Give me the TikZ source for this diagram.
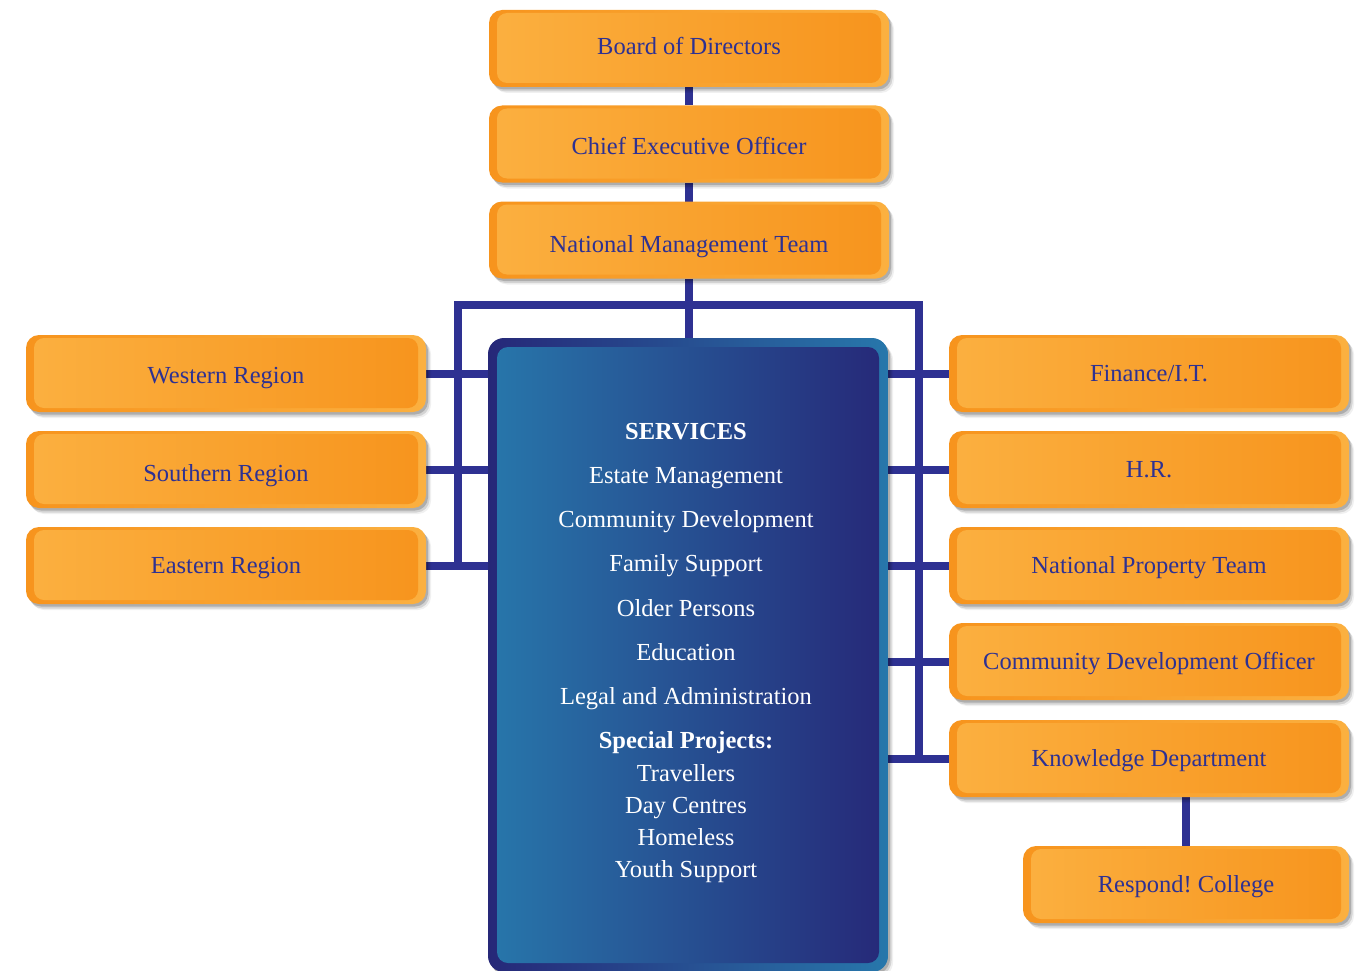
\documentclass[tikz,border=0pt]{standalone}
\usepackage{fontspec}
\setmainfont{Liberation Serif}
\usetikzlibrary{shadows}
\definecolor{oDark}{HTML}{F7941D}
\definecolor{oLight}{HTML}{FBB040}
\definecolor{navy}{HTML}{2E3192}
\definecolor{bDark}{HTML}{262878}
\definecolor{bLight}{HTML}{2777AB}
\pgfdeclarelayer{bg}
\pgfsetlayers{bg,main}
\begin{document}
\frenchspacing
\begin{tikzpicture}[x=1pt,y=-1pt,
  labfont/.style={font=\fontsize{24.5}{28}\selectfont},
  softshadow/.style={
    drop shadow={shadow xshift=2pt, shadow yshift=-2.5pt, opacity=0.18, fill=black},
    drop shadow={shadow xshift=3.5pt, shadow yshift=-4.5pt, opacity=0.12, fill=black},
    drop shadow={shadow xshift=5pt, shadow yshift=-6pt, opacity=0.06, fill=black}},
  obox/.style={rectangle, rounded corners=13pt, minimum width=400pt, minimum height=77pt,
    inner sep=0pt, outer sep=0pt, left color=oDark, right color=oLight,
    softshadow,
    path picture={\shade[left color=oLight, right color=oDark, rounded corners=10pt]
      ([xshift=8pt,yshift=-3pt]path picture bounding box.north west) rectangle
      ([xshift=-8pt,yshift=4pt]path picture bounding box.south east);},
    labfont, text=navy, text height=16pt, text depth=0pt},
  tsh/.style={text height=#1},
  sbox/.style={rectangle, rounded corners=16pt, minimum width=400pt, minimum height=634pt,
    inner sep=0pt, outer sep=0pt, left color=bDark, right color=bLight,
    softshadow,
    path picture={\shade[left color=bLight, right color=bDark, rounded corners=11pt]
      ([xshift=9pt,yshift=-9pt]path picture bounding box.north west) rectangle
      ([xshift=-9pt,yshift=9pt]path picture bounding box.south east);}},
  stext/.style={labfont, text=white, anchor=base, inner sep=0pt},
  sbold/.style={stext, font=\fontsize{24.5}{28}\selectfont\bfseries},
  conn/.style={draw=navy, line width=8pt, line join=miter}]
\useasboundingbox (0,0) rectangle (1368,971);

\node[obox, tsh=12pt] (bod) at (689,48.5) {Board of Directors};
\node[obox, tsh=22pt] (ceo) at (689,144) {Chief Executive Officer};
\node[obox, tsh=24pt] (nmt) at (689,240) {National Management Team};
\node[obox, tsh=20pt] (wr) at (226,373.5) {Western Region};
\node[obox, tsh=24pt] (sr) at (226,469.5) {Southern Region};
\node[obox] (er) at (226,565.5) {Eastern Region};
\node[obox] (fin) at (1149,373.5) {Finance/I.T.};
\node[obox] (hr) at (1149,469.5) {H.R.};
\node[obox] (npt) at (1149,565.5) {National Property Team};
\node[obox] (cdo) at (1149,661.5) {Community Development Officer};
\node[obox] (kd) at (1149,758.5) {Knowledge Department};
\node[obox, minimum width=326pt] (rc) at (1186,884.5) {Respond! College};
\node[sbox] (sv) at (688,655) {};

\node[sbold] (t0) at (686,439) {SERVICES};
\node[stext] (t1) at (686,483) {Estate Management};
\node[stext] (t2) at (686,527) {Community Development};
\node[stext] (t3) at (686,571.5) {Family Support};
\node[stext] (t4) at (686,616) {Older Persons};
\node[stext] (t5) at (686,660) {Education};
\node[stext] (t6) at (686,704) {Legal and Administration};
\node[sbold] (t7) at (686,748) {Special Projects:};
\node[stext] (t8) at (686,781) {Travellers};
\node[stext] (t9) at (686,813) {Day Centres};
\node[stext] (t10) at (686,845) {Homeless};
\node[stext] (t11) at (686,877) {Youth Support};

\coordinate (busL) at (458,305);
\coordinate (busR) at (919,305);
\begin{pgfonlayer}{bg}
\draw[conn] (bod.south) -- (ceo.north);
\draw[conn] (ceo.south) -- (nmt.north);
\draw[conn] (nmt.south) -- (nmt.south |- sv.north);
\draw[conn] (er.east -| busL) -- (busL) -- (busR) -- (kd.west -| busR);
\foreach \n in {wr,sr,er} \draw[conn] (\n.east) -- (\n.east -| sv.west);
\foreach \n in {fin,hr,npt,cdo,kd} \draw[conn] (sv.east |- \n.west) -- (\n.west);
\draw[conn] (kd.south -| rc.north) -- (rc.north);
\end{pgfonlayer}
\end{tikzpicture}
\end{document}
